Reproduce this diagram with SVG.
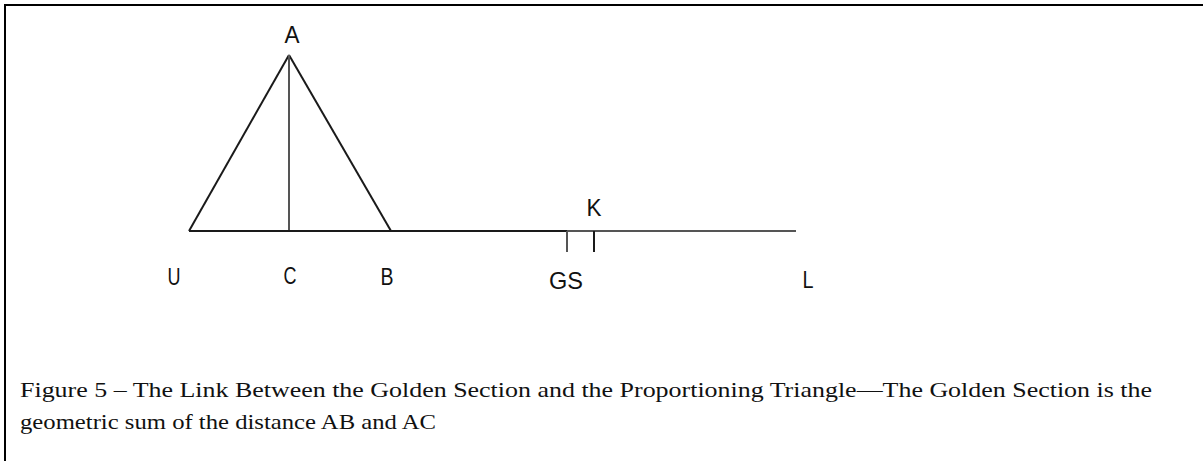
<svg xmlns="http://www.w3.org/2000/svg" width="1203" height="461" viewBox="0 0 1203 461">
<style>
.lbl{font-family:"Liberation Sans",Arial,sans-serif;font-size:24px;fill:#111;text-anchor:middle}
.cap{font-family:"Liberation Serif","Times New Roman",serif;font-size:21px;fill:#111}
.dk{stroke:#1a1a1a;stroke-width:2;fill:none}
.gr{stroke:#555;stroke-width:2;fill:none}
</style>
<rect x="0" y="0" width="1203" height="461" fill="#fff"/>
<path d="M5,461 V5 H1203" fill="none" stroke="#000" stroke-width="2"/>
<g id="connectors">
<line class="dk" x1="189" y1="231" x2="289" y2="55"/>
<line class="dk" x1="289" y1="55" x2="391" y2="231"/>
<line class="gr" x1="289" y1="55" x2="289" y2="231"/>
<line class="dk" x1="189" y1="231" x2="567" y2="231" stroke-width="2.4"/>
<line class="gr" x1="567" y1="231" x2="796" y2="231"/>
<line class="gr" x1="567" y1="231" x2="567" y2="252"/>
<line class="dk" x1="594" y1="231" x2="594" y2="252"/>
</g>
<g id="A"><text class="lbl" x="292" y="43" textLength="15" lengthAdjust="spacingAndGlyphs">A</text></g>
<g id="U"><text class="lbl" x="174" y="285" textLength="13" lengthAdjust="spacingAndGlyphs">U</text></g>
<g id="C"><text class="lbl" x="290" y="284" textLength="13" lengthAdjust="spacingAndGlyphs">C</text></g>
<g id="B"><text class="lbl" x="387" y="285" textLength="13" lengthAdjust="spacingAndGlyphs">B</text></g>
<g id="GS"><text class="lbl" x="566" y="289" textLength="34" lengthAdjust="spacingAndGlyphs">GS</text></g>
<g id="K"><text class="lbl" x="594" y="216" textLength="15" lengthAdjust="spacingAndGlyphs">K</text></g>
<g id="L"><text class="lbl" x="808" y="288" textLength="11" lengthAdjust="spacingAndGlyphs">L</text></g>
<g id="caption">
<text class="cap" x="20" y="397" textLength="1132" lengthAdjust="spacingAndGlyphs">Figure 5 – The Link Between the Golden Section and the Proportioning Triangle—The Golden Section is the</text>
<text class="cap" x="20" y="429" textLength="416" lengthAdjust="spacingAndGlyphs">geometric sum of the distance AB and AC</text>
</g>
</svg>
